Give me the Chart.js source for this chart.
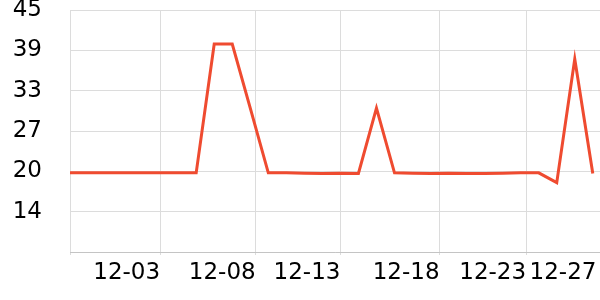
<!DOCTYPE html>
<html>
<head>
<meta charset="utf-8">
<script src="https://cdn.jsdelivr.net/npm/chart.js@4"></script>
<style>
  html, body { margin: 0; padding: 0; background: #fff; }
  #wrap { width: 600px; height: 300px; }
</style>
</head>
<body>
<div id="wrap"><canvas id="lineChart"></canvas></div>
<script>
const dates = [
  "11-28", "11-29", "11-30", "12-01", "12-02", "12-03", "12-04", "12-05", "12-06", "12-07",
  "12-08", "12-09", "12-10", "12-11", "12-12", "12-13", "12-14", "12-15", "12-16", "12-17",
  "12-18", "12-19", "12-20", "12-21", "12-22", "12-23", "12-24", "12-25", "12-26", "12-27"
];
const values = [
  20.1, 20.1, 20.1, 20.1, 20.1, 20.1, 20.1, 20.1, 39.8, 39.8,
  30.0, 20.1, 20.1, 20.05, 20.0, 20.05, 20.0, 30.0, 20.1, 20.05,
  20.0, 20.05, 20.0, 20.0, 20.05, 20.1, 20.1, 18.6, 37.5, 20.0
];
// x tick positions (point index) and their labels
const xTickPos = [0, 5, 10.3, 15, 20.5, 25.3, 29.2];
const xTickLabels = ["", "12-03", "12-08", "12-13", "12-18", "12-23", "12-27"];
const yMin = 8;
const yMax = 45;
const ySteps = 6;

const points = values.map((v, i) => ({ x: i, y: v }));
const font = { family: "DejaVu Sans", size: 23 };

new Chart(document.getElementById("lineChart"), {
  type: "line",
  data: {
    datasets: [
      {
        label: "值",
        data: points,
        borderColor: "#ef4b30",
        borderWidth: 3,
        pointRadius: 0,
        tension: 0,
        fill: false,
      },
    ],
  },
  options: {
    responsive: true,
    maintainAspectRatio: false,
    animation: false,
    layout: { padding: 0 },
    scales: {
      x: {
        type: "linear",
        min: 0,
        max: 29.4,
        afterBuildTicks: (scale) => {
          scale.ticks = xTickPos.map((p) => ({ value: p }));
        },
        afterFit: (scale) => {
          scale.height = 48;
          scale.paddingLeft = 0;
          scale.paddingRight = 0;
        },
        ticks: {
          autoSkip: false,
          maxRotation: 0,
          align: "end",
          padding: 4,
          color: "#000",
          font: font,
          callback: (v, i) => xTickLabels[i],
        },
        grid: {
          color: (c) => (c.index === xTickPos.length - 1 ? "rgba(0,0,0,0)" : "#dcdcdc"),
          tickLength: 3,
        },
        border: { color: "#c4c4c4" },
      },
      y: {
        min: yMin,
        max: yMax,
        afterBuildTicks: (scale) => {
          const t = [];
          for (let k = 0; k <= ySteps; k++) t.push({ value: yMin + (k * (yMax - yMin)) / ySteps });
          scale.ticks = t;
        },
        afterFit: (scale) => {
          scale.width = 70;
          scale.paddingTop = 10;
          scale.paddingBottom = 0;
        },
        ticks: {
          padding: 28,
          color: "#000",
          font: font,
          callback: (v, i) => (i === 0 ? "" : String(Math.round(v))),
        },
        grid: { color: "#dcdcdc", drawTicks: false },
        border: { display: false },
      },
    },
    plugins: {
      legend: { display: false },
      tooltip: { enabled: false },
    },
  },
});
</script>
</body>
</html>
